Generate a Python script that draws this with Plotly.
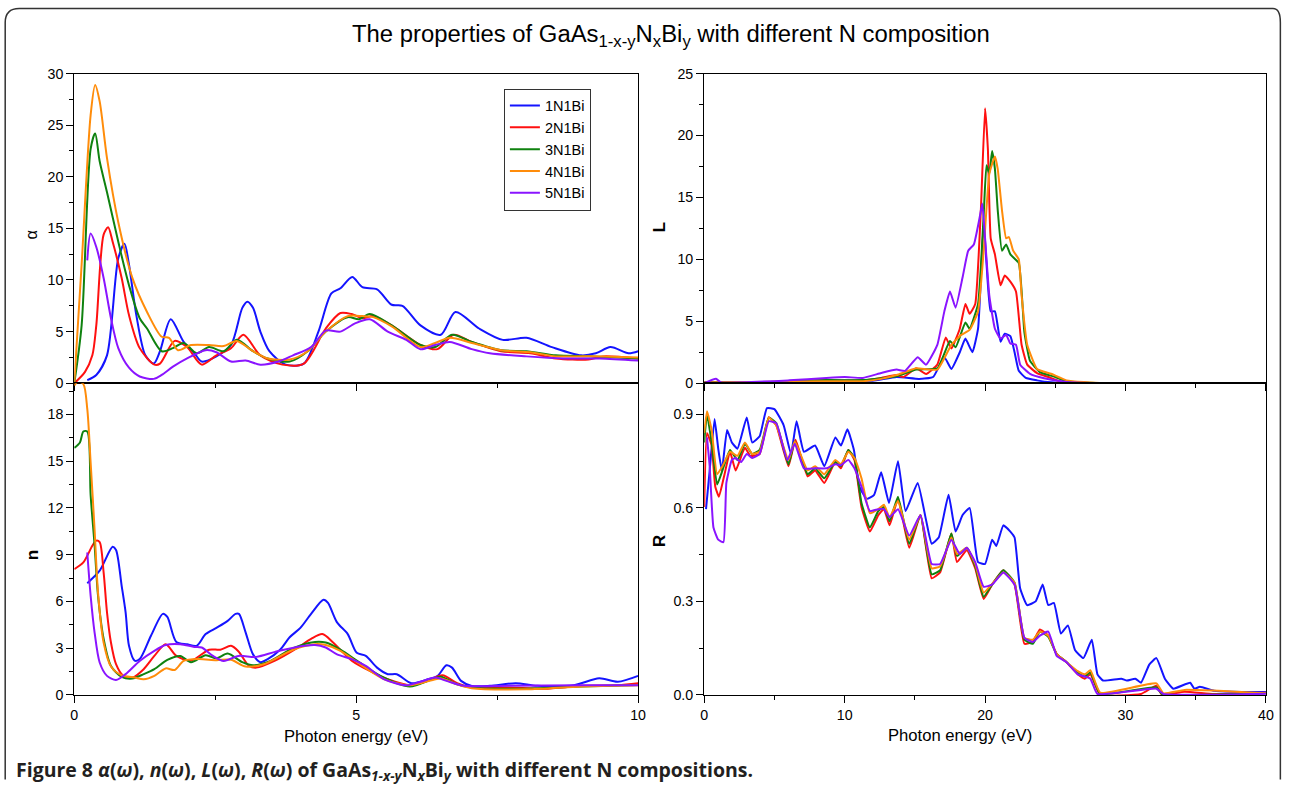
import plotly.graph_objects as go

W, H = 1289, 788
# measured mapping between layout pixels and the photographed page
SX, OX = 0.9893, 3.8
SY, OY = 0.9807, 7.4
FS = 1.0 / 0.985  # font compensation for that mapping

series_names = ["1N1Bi", "2N1Bi", "3N1Bi", "4N1Bi", "5N1Bi"]
series_colors = ["#1414ff", "#ff1010", "#0f820f", "#ff8c0a", "#8a14ff"]

# ---------------- alpha(omega) ----------------
alpha_1_E = [0.23,0.39,0.58,0.78,0.89,0.97,1.1,1.26,1.41,1.52,1.71,1.94,2.13,2.26,2.52,2.78,2.98,3.07,3.17,3.3,3.46,3.75,4.07,4.33,4.56,4.72,4.93,5.11,5.37,5.63,5.82,6.14,6.5,6.76,7.18,7.6,8.02,8.47,8.99,9.25,9.51,9.83,10]
alpha_1 = [0.3,0.8,2.7,12.1,13.5,11.5,6.6,2.7,1.9,3.1,6.2,4.0,2.9,2.1,2.6,3.7,7.3,7.9,7.3,5.0,3.1,1.8,1.9,5.0,8.7,9.2,10.3,9.3,9.1,7.6,7.5,5.6,4.7,6.9,5.3,4.2,4.4,3.5,2.7,2.9,3.5,2.9,3.1]
alpha_2_E = [0,0.19,0.32,0.39,0.52,0.6,0.68,0.84,0.97,1.16,1.42,1.52,1.78,2.0,2.26,2.52,2.78,3.0,3.3,3.69,4.07,4.46,4.72,4.92,5.11,5.3,5.63,6.14,6.44,6.73,7.05,7.57,8.09,8.54,9.12,9.38,10]
alpha_2 = [0,1.1,2.7,5.6,14.4,15.1,13.7,10.2,6.6,3.4,1.8,1.9,4.1,3.5,1.8,2.7,3.4,4.7,2.7,1.8,1.9,5.3,6.8,6.7,6.3,6.5,5.6,3.7,3.3,4.7,4.0,3.1,2.9,2.4,2.3,2.6,2.4]
alpha_3_E = [0,0.13,0.29,0.37,0.45,0.58,0.78,0.97,1.16,1.29,1.55,1.75,1.94,2.17,2.39,2.65,2.88,3.17,3.43,3.82,4.14,4.46,4.85,5.05,5.24,5.63,6.14,6.4,6.7,7.05,7.57,8.02,8.54,9.12,10]
alpha_3 = [0,5.6,22.7,24.2,21.5,18.5,13.7,9.5,6.3,5.3,3.1,3.4,3.9,2.9,3.5,3.1,4.2,3.1,2.4,2.1,3.1,5.0,6.4,6.2,6.7,5.6,3.7,3.5,4.7,4.0,3.2,3.1,2.7,2.6,2.4]
alpha_4_E = [0,0.13,0.29,0.37,0.45,0.58,0.78,1.03,1.29,1.55,1.68,1.84,2.07,2.39,2.65,2.88,3.17,3.43,3.82,4.14,4.46,4.85,5.11,5.3,5.63,6.14,6.4,6.66,7.05,7.57,8.09,8.54,9.12,10]
alpha_4 = [0,11.5,26.0,28.9,27.3,21.8,15.6,10.2,6.9,4.5,4.4,3.2,3.7,3.7,3.6,4.1,3.1,2.4,2.3,3.1,5.0,6.5,6.5,6.4,5.5,3.5,3.9,4.4,3.9,3.2,3.0,2.6,2.6,2.5]
alpha_5_E = [0.23,0.29,0.39,0.52,0.65,0.78,0.97,1.16,1.41,1.55,1.75,2.0,2.33,2.52,2.78,3.04,3.3,3.62,3.88,4.2,4.46,4.72,4.98,5.24,5.56,5.89,6.14,6.4,6.66,7.05,7.37,8.02,8.67,9.32,10]
alpha_5 = [11.9,14.5,13.2,10.2,6.3,3.4,1.5,0.65,0.42,0.8,1.6,2.4,3.2,3.0,2.1,2.2,1.8,2.1,2.7,3.5,5.1,5.0,5.8,6.2,5.0,4.2,3.3,3.7,4.0,3.3,2.9,2.6,2.4,2.4,2.2]

# ---------------- n(omega) ----------------
n_1_E = [0.23,0.45,0.68,0.74,0.84,0.91,0.97,1.07,1.16,1.36,1.57,1.65,1.81,2.0,2.17,2.33,2.52,2.72,2.86,2.92,3.04,3.17,3.3,3.43,3.65,3.82,4.01,4.2,4.42,4.5,4.66,4.85,5.01,5.17,5.37,5.56,5.72,5.98,6.27,6.44,6.6,6.7,6.86,7.05,7.37,7.83,8.21,8.86,9.31,9.64,10]
n_1 = [7.17,7.97,9.5,9.3,7.0,5.3,3.15,2.2,2.3,3.8,5.2,5.0,3.4,3.25,3.15,3.9,4.3,4.75,5.2,5.2,4.0,2.6,2.1,2.3,2.9,3.7,4.3,5.2,6.1,5.9,4.65,3.9,2.7,2.5,1.75,1.33,1.33,0.75,1.0,1.2,1.9,1.75,0.9,0.58,0.58,0.75,0.58,0.62,1.07,0.84,1.22]
n_2_E = [0,0.16,0.32,0.39,0.45,0.52,0.58,0.65,0.74,0.87,1.03,1.23,1.42,1.62,1.81,2.07,2.39,2.59,2.78,2.91,3.1,3.23,3.56,3.95,4.2,4.4,4.59,4.92,5.3,5.56,5.95,6.27,6.53,6.79,7.05,7.7,8.34,9.0,9.64,10]
n_2 = [8.07,8.5,9.57,9.9,9.8,7.86,5.3,3.36,1.97,1.22,1.11,1.65,2.5,3.25,2.5,2.2,2.9,2.9,3.15,2.8,1.86,1.75,2.2,3.0,3.6,3.9,3.36,2.2,1.43,1.0,0.62,0.9,1.26,0.75,0.47,0.47,0.4,0.58,0.62,0.75]
n_3_E = [0,0.1,0.16,0.23,0.29,0.36,0.42,0.52,0.65,0.84,1.03,1.23,1.42,1.65,1.88,2.07,2.33,2.52,2.72,2.98,3.17,3.49,3.88,4.27,4.46,4.72,5.05,5.43,5.95,6.34,6.5,6.79,7.05,8.02,9.0,10]
n_3 = [15.85,16.2,16.9,16.9,12.8,9.6,6.4,3.6,1.86,1.16,1.05,1.33,1.65,2.25,2.5,2.1,2.55,2.35,2.65,2.1,1.9,2.2,3.0,3.4,3.36,2.9,2.1,1.22,0.54,1.0,1.16,0.68,0.47,0.4,0.54,0.64]
n_4_E = [0,0.06,0.16,0.23,0.29,0.36,0.42,0.52,0.65,0.84,1.07,1.23,1.42,1.62,1.78,1.94,2.2,2.52,2.78,3.04,3.36,3.88,4.27,4.46,4.72,5.11,5.5,5.95,6.34,6.5,6.79,7.05,8.02,9.0,10]
n_4 = [19.85,20.1,19.95,18.35,14.9,10.6,6.6,3.36,1.82,1.26,1.11,1.0,1.22,1.7,1.6,2.18,2.3,2.23,2.25,1.82,1.97,2.9,3.25,3.2,2.83,1.86,1.0,0.62,0.94,1.05,0.68,0.43,0.36,0.54,0.62]
n_5_E = [0.23,0.29,0.36,0.45,0.58,0.74,0.91,1.16,1.42,1.62,1.88,2.13,2.26,2.46,2.65,2.91,3.23,3.56,3.95,4.27,4.46,4.66,4.92,5.17,5.5,5.89,6.14,6.4,6.6,6.92,7.7,9.0,10]
n_5 = [9.14,6.36,4.0,2.08,1.22,0.96,1.33,2.18,2.83,3.2,3.25,3.08,3.04,2.5,2.18,2.5,2.44,2.76,3.08,3.2,3.04,2.6,2.3,1.86,1.0,0.62,0.84,1.11,0.9,0.58,0.58,0.62,0.62]

# ---------------- L(omega) ----------------
L_1_E = [0,2,4,6,8,10,12,13.7,15.3,16.3,17.1,17.6,18.2,18.6,19.1,19.5,19.7,19.9,20.1,20.4,20.7,21.1,21.4,21.8,22.1,22.4,22.9,23.7,24.7,25.8,30,40]
L_1 = [0.05,0.05,0.05,0.1,0.2,0.2,0.2,0.5,0.35,0.5,2.1,1.15,2.5,3.6,2.5,4.4,8.4,13.0,9.7,5.8,5.8,3.35,4.0,3.8,2.5,1.0,0.43,0.23,0.07,0.0,0.0,0.0]
L_2_E = [0,4,8.7,11.3,12.6,13.7,14.2,15.1,15.8,16.6,17.2,17.6,18.2,18.6,18.9,19.3,19.7,20.0,20.2,20.4,20.7,21.1,21.4,21.8,22.2,22.6,23.0,23.7,24.5,25.3,27.1,30,40]
L_2 = [0.05,0.07,0.23,0.23,0.43,0.66,0.5,1.2,0.75,1.5,3.7,2.8,4.4,6.4,5.6,6.4,14.0,22.2,18.9,11.7,10.4,7.9,8.7,8.2,7.4,3.1,1.5,0.82,0.5,0.16,0.03,0,0]
L_3_E = [0,4,8.7,11.3,12.6,13.7,15.1,16.6,17.5,17.9,18.6,18.9,19.5,19.9,20.1,20.3,20.5,20.7,20.9,21.2,21.5,21.8,22.4,22.8,23.2,23.9,25.0,25.8,28.4,40]
L_3 = [0.05,0.08,0.25,0.25,0.4,0.56,1.1,1.2,3.4,2.9,4.9,4.4,6.4,13.6,17.6,16.9,18.75,17.3,14.0,10.7,11.2,10.4,9.7,4.1,1.8,0.9,0.5,0.16,0,0]
L_4_E = [0,4,8.7,11.3,12.6,13.7,15.1,16.6,17.6,18.3,18.9,19.5,19.9,20.3,20.7,20.9,21.2,21.5,21.7,22.0,22.4,22.6,23.0,23.7,24.7,25.8,28.4,40]
L_4 = [0.05,0.1,0.16,0.16,0.35,0.66,1.2,1.1,3.1,3.9,4.3,5.8,10.7,16.9,18.3,17.3,14.0,11.7,11.8,10.7,10.0,7.1,3.1,1.15,0.76,0.23,0,0]
L_5_E = [0,0.84,1.2,6.05,8.7,10,11.3,12.6,13.7,14.3,15.2,15.8,16.6,17.1,17.5,17.9,18.4,18.8,19.2,19.6,19.8,20.0,20.3,20.7,21.1,21.5,21.8,22.2,22.5,23.2,24.2,25.8,28.4,40]
L_5 = [0,0.36,0.07,0.23,0.43,0.5,0.43,0.82,1.1,1.0,2.1,1.5,3.1,5.8,7.4,6.1,8.55,10.7,11.2,13.3,14.5,11.7,7.1,4.4,3.6,3.9,3.2,3.1,1.5,0.76,0.4,0.1,0,0]

# ---------------- R(omega) ----------------
R_1_E = [0.13,0.39,0.74,1.0,1.26,1.63,1.97,2.37,3.03,3.42,3.95,4.47,5.0,5.66,6.18,6.58,7.1,7.9,8.55,9.34,9.74,10.2,10.66,11.05,11.58,12.1,12.6,13.16,13.8,14.34,15.2,15.8,16.2,16.7,17.4,17.9,18.4,18.9,19.5,20.0,20.5,20.8,21.3,21.8,22.1,22.5,23.0,23.6,24.1,24.5,24.9,25.4,25.9,26.4,27.0,27.6,28.0,28.4,29.7,30.1,30.7,31.1,31.7,32.2,32.8,33.4,34.6,34.9,35.3,36.3,37.6,40]
R_1 = [0.596,0.72,0.885,0.79,0.72,0.85,0.81,0.79,0.89,0.81,0.83,0.92,0.917,0.865,0.773,0.878,0.78,0.8,0.734,0.826,0.8,0.852,0.786,0.668,0.629,0.642,0.714,0.616,0.75,0.59,0.68,0.56,0.485,0.505,0.642,0.524,0.577,0.6,0.426,0.42,0.498,0.478,0.544,0.524,0.505,0.341,0.288,0.3,0.354,0.288,0.295,0.197,0.223,0.144,0.118,0.177,0.066,0.046,0.052,0.046,0.052,0.039,0.098,0.118,0.052,0.02,0.039,0.02,0.026,0.013,0.01,0.009]
R_2_E = [0,0.2,0.53,0.79,1.05,1.45,1.84,2.24,2.9,3.29,3.95,4.6,5.13,6.0,6.5,7.37,7.9,8.55,9.34,9.74,10.26,10.7,11.2,11.8,12.4,12.8,13.2,13.8,14.6,15.4,16.2,16.8,17.6,18.0,18.7,19.3,19.9,20.5,21.3,22.1,22.8,23.4,23.9,24.5,25.1,25.8,26.6,27.1,27.5,28.2,31.1,32.2,32.6,34.2,36.3,40]
R_2 = [0.603,0.84,0.8,0.668,0.636,0.708,0.78,0.72,0.793,0.767,0.773,0.891,0.865,0.734,0.819,0.701,0.72,0.68,0.747,0.727,0.786,0.753,0.603,0.524,0.577,0.596,0.544,0.629,0.472,0.577,0.374,0.393,0.518,0.426,0.465,0.406,0.308,0.354,0.4,0.354,0.164,0.17,0.21,0.19,0.131,0.105,0.066,0.052,0.066,0.0,0.003,0.029,0.0,0.01,0.003,0.007]
R_3_E = [0,0.2,0.53,0.92,1.3,1.84,2.37,2.9,3.42,3.95,4.6,5.13,6.0,6.45,7.37,7.9,8.55,9.34,9.74,10.26,10.7,11.2,11.8,12.4,12.8,13.2,13.8,14.6,15.4,16.2,16.8,17.6,18.0,18.7,19.3,19.9,20.5,21.3,22.1,22.8,23.4,23.9,24.5,25.1,25.8,26.6,27.1,27.5,28.2,32.2,32.6,40]
R_3 = [0.81,0.9,0.81,0.675,0.72,0.786,0.753,0.806,0.773,0.786,0.889,0.872,0.74,0.813,0.708,0.727,0.695,0.747,0.734,0.786,0.76,0.616,0.537,0.59,0.603,0.557,0.636,0.485,0.577,0.387,0.4,0.518,0.446,0.472,0.413,0.315,0.354,0.4,0.36,0.177,0.164,0.203,0.186,0.131,0.105,0.072,0.059,0.072,0.003,0.024,0.003,0.005]
R_4_E = [0,0.2,0.53,0.92,1.3,1.84,2.37,2.9,3.42,3.95,4.6,5.13,6.0,6.45,7.37,7.9,8.55,9.34,9.74,10.26,10.7,11.2,11.8,12.4,12.8,13.2,13.8,14.6,15.4,16.2,16.8,17.6,18.0,18.7,19.3,19.9,20.5,21.3,22.1,22.8,23.4,23.9,24.5,25.1,25.8,26.6,27.1,27.5,28.2,32.2,32.7,34.2,40]
R_4 = [0.84,0.91,0.85,0.708,0.734,0.78,0.767,0.81,0.773,0.78,0.889,0.865,0.754,0.813,0.72,0.734,0.708,0.754,0.74,0.78,0.76,0.695,0.583,0.596,0.61,0.57,0.622,0.498,0.577,0.406,0.413,0.505,0.452,0.472,0.42,0.328,0.356,0.393,0.36,0.183,0.177,0.203,0.19,0.131,0.105,0.076,0.066,0.079,0.007,0.037,0.005,0.016,0.005]
R_5_E = [0.2,0.39,0.66,1.0,1.37,1.58,1.97,2.24,2.63,3.03,3.42,3.95,4.6,5.13,5.92,6.45,7.1,7.9,8.7,9.34,9.74,10.26,10.7,11.2,11.8,12.4,12.8,13.2,13.8,14.6,15.4,16.2,16.8,17.6,18.2,18.7,19.3,19.9,20.5,21.3,22.1,22.8,23.4,23.9,24.5,25.1,25.8,26.6,27.1,27.5,28.0,32.2,32.7,40]
R_5 = [0.826,0.734,0.537,0.498,0.49,0.68,0.754,0.76,0.747,0.773,0.76,0.773,0.878,0.872,0.754,0.806,0.727,0.727,0.727,0.74,0.737,0.754,0.727,0.668,0.59,0.596,0.596,0.57,0.596,0.511,0.577,0.42,0.42,0.498,0.452,0.472,0.426,0.347,0.354,0.393,0.354,0.183,0.17,0.19,0.203,0.125,0.105,0.066,0.059,0.052,0.003,0.02,0.003,0.004]

alpha_sets = [(alpha_1_E, alpha_1), (alpha_2_E, alpha_2), (alpha_3_E, alpha_3), (alpha_4_E, alpha_4), (alpha_5_E, alpha_5)]
n_sets = [(n_1_E, n_1), (n_2_E, n_2), (n_3_E, n_3), (n_4_E, n_4), (n_5_E, n_5)]
L_sets = [(L_1_E, L_1), (L_2_E, L_2), (L_3_E, L_3), (L_4_E, L_4), (L_5_E, L_5)]
R_sets = [(R_1_E, R_1), (R_2_E, R_2), (R_3_E, R_3), (R_4_E, R_4), (R_5_E, R_5)]

fig = go.Figure()

panels = [("x", "y", alpha_sets, True, 0.8), ("x2", "y2", n_sets, False, 0.8),
          ("x3", "y3", L_sets, False, 0.4), ("x4", "y4", R_sets, False, 0.4)]
for xa, ya, sets, show, sm in panels:
    for i, (ex, vals) in enumerate(sets):
        fig.add_trace(go.Scatter(
            x=ex, y=vals, mode="lines", name=series_names[i],
            line=dict(color=series_colors[i], width=2, shape="spline", smoothing=sm),
            xaxis=xa, yaxis=ya, showlegend=show, legendgroup=series_names[i]))

# target page pixel -> paper fraction
def px_x(p):
    return ((p - OX) / SX) / W

def px_y(p):
    return 1 - ((p - OY) / SY) / H

def clamp(v):
    return min(max(v, 0.0005), 0.9995)

FONT = "Liberation Sans, Arial, Helvetica, sans-serif"
tickfont = dict(family=FONT, size=14 * FS, color="black")

xl = [px_x(74), px_x(637)]
xr = [px_x(703), px_x(1264)]
yt = [px_y(383), px_y(73)]
yb = [px_y(695), px_y(383)]

def ax(domain, rng, dtick, mdtick, anchor, labels=True, fmt=None):
    d = dict(domain=domain, range=rng, dtick=dtick, tick0=0, anchor=anchor,
             showline=True, linecolor="black", linewidth=1.3, mirror=True,
             ticks="outside", ticklen=7, tickwidth=1.2, tickcolor="black",
             showgrid=False, zeroline=False, showticklabels=labels,
             tickfont=tickfont,
             minor=dict(dtick=mdtick, tick0=0, ticks="outside", ticklen=4,
                        tickwidth=1, tickcolor="black", showgrid=False))
    if fmt:
        d["tickformat"] = fmt
    return d

fig.update_layout(
    width=W, height=H, autosize=False,
    margin=dict(l=0, r=0, t=0, b=0, pad=0),
    paper_bgcolor="white", plot_bgcolor="white",
    font=dict(family=FONT, color="black"),
    xaxis=ax(xl, [0, 10], 5, 2.5, "y", labels=False),
    yaxis=ax(yt, [0, 30], 5, 2.5, "x"),
    xaxis2=ax(xl, [0, 10], 5, 2.5, "y2"),
    yaxis2=ax(yb, [0, 20], 3, 1.5, "x2"),
    xaxis3=ax(xr, [0, 40], 10, 5, "y3", labels=False),
    yaxis3=ax(yt, [0, 25], 5, 2.5, "x3"),
    xaxis4=ax(xr, [0, 40], 10, 5, "y4"),
    yaxis4=ax(yb, [0, 1.0], 0.3, 0.15, "x4", fmt=".1f"),
    legend=dict(x=px_x(503), y=px_y(88), xanchor="left", yanchor="top",
                bordercolor="#333333", borderwidth=1, bgcolor="white",
                font=dict(family=FONT, size=14.5, color="black"),
                tracegroupgap=0, itemwidth=30,
                entrywidth=95, entrywidthmode="pixels"),
    showlegend=True,
)

annots = [
    dict(x=px_x(670), y=px_y(35),
         text="The properties of GaAs<sub>1-x-y</sub>N<sub>x</sub>Bi<sub>y</sub> with different N composition",
         font=dict(family=FONT, size=23.5 * FS, color="black")),
    dict(x=px_x(31), y=px_y(235), text="α", textangle=-90,
         font=dict(family=FONT, size=16 * FS, color="black")),
    dict(x=px_x(32), y=px_y(555), text="<b>n</b>", textangle=-90,
         font=dict(family=FONT, size=17 * FS, color="black")),
    dict(x=px_x(658), y=px_y(227), text="<b>L</b>", textangle=-90,
         font=dict(family=FONT, size=17 * FS, color="black")),
    dict(x=px_x(658), y=px_y(541), text="<b>R</b>", textangle=-90,
         font=dict(family=FONT, size=17 * FS, color="black")),
    dict(x=px_x(355), y=px_y(737), text="Photon energy (eV)",
         font=dict(family=FONT, size=16.4 * FS, color="black")),
    dict(x=px_x(958), y=px_y(736), text="Photon energy (eV)",
         font=dict(family=FONT, size=16.4 * FS, color="black")),
    dict(x=px_x(14), y=px_y(771), xanchor="left",
         text="<b>Figure 8 <i>α</i>(<i>ω</i>), <i>n</i>(<i>ω</i>), <i>L</i>(<i>ω</i>), <i>R</i>(<i>ω</i>) of GaAs<sub><i>1-x-y</i></sub>N<sub><i>x</i></sub>Bi<sub><i>y</i></sub> with different N compositions.</b>",
         font=dict(family="Open Sans, Liberation Sans, sans-serif", size=19.2 * FS, color="#231f20")),
]
for a in annots:
    a.setdefault("xanchor", "center")
    a.update(xref="paper", yref="paper", yanchor="middle", showarrow=False)
    fig.add_annotation(**a)

# rounded outer frame, kept inside the figure
def P(xp, yp):
    return f"{clamp(px_x(xp)):.5f},{clamp(px_y(yp)):.5f}"

path = (f"M {P(5, 800)} L {P(5, 22)} Q {P(5, 8)} {P(19, 8)} "
        f"L {P(1271, 8)} Q {P(1285, 8)} {P(1285, 22)} L {P(1285, 800)}")
fig.add_shape(type="path", path=path, xref="paper", yref="paper",
              line=dict(color="#333333", width=1.5))

fig.write_html("out.html")
